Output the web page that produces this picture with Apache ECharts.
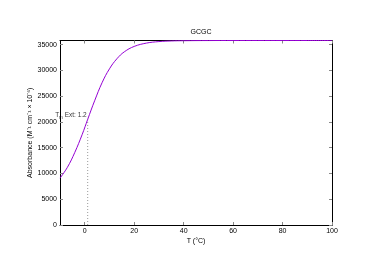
<!DOCTYPE html>
<html>
<head>
<meta charset="utf-8">
<script src="https://cdn.jsdelivr.net/npm/echarts@6/dist/echarts.min.js"></script>
<style>
html,body{margin:0;padding:0;background:#fff;}
#chart{width:374px;height:264px;}
</style>
</head>
<body>
<div id="chart"></div>
<script>
// Temperatures (°C) and absorbance values
const temps = [-10, -7, -4, -1, 1.2, 4, 7, 10, 13, 16, 20, 25, 30, 35, 40, 50, 60, 70, 80, 90, 100];
const absorb = [9100, 11200, 14100, 17600, 20500, 24100, 27600, 30300, 32250, 33600, 34650, 35300, 35590, 35710, 35760, 35790, 35800, 35800, 35800, 35800, 35800];
const xTicks = [0, 20, 40, 60, 80, 100];
const yTicks = [0, 5000, 10000, 15000, 20000, 25000, 30000, 35000];
const tmValue = 1.2;
const tmAbs = 20500;
const titleText = 'GCGC';
const xName = 'T (°C)';
const yName = 'Absorbance (M⁻¹ cm⁻¹ × 10⁻⁶)';

const font = 'Liberation Sans, Arial, sans-serif';
const chart = echarts.init(document.getElementById('chart'), null, {renderer: 'canvas'});

const lineData = temps.map((t, i) => [t, absorb[i]]);

const baseX = {
  type: 'value', min: -10, max: 100,
  axisLine: {show: true, onZero: false, lineStyle: {color: '#000', width: 1}},
  axisTick: {show: true, inside: true, length: 3, customValues: xTicks, lineStyle: {color: '#888'}},
  splitLine: {show: false}
};
const baseY = {
  type: 'value', min: 0, max: 35800, interval: 5000,
  axisLine: {show: true, onZero: false, lineStyle: {color: '#000', width: 1}},
  axisTick: {show: true, inside: true, length: 3, customValues: yTicks, lineStyle: {color: '#888'}},
  splitLine: {show: false}
};

chart.setOption({
  animation: false,
  backgroundColor: '#fff',
  title: {
    text: titleText, left: 196, top: 24, textAlign: 'center',
    textStyle: {fontFamily: font, fontSize: 7, fontWeight: 'normal', color: '#000'}
  },
  grid: {left: 60, right: 42, top: 40.5, bottom: 39, containLabel: false},
  xAxis: [
    Object.assign({}, baseX, {
      position: 'bottom',
      name: xName, nameLocation: 'middle', nameGap: 13, nameMoveOverlap: false,
      nameTextStyle: {fontFamily: font, fontSize: 7, color: '#000'},
      axisLabel: {show: true, customValues: xTicks, margin: 3, fontFamily: font, fontSize: 7, color: '#000',
        formatter: v => String(v)}
    }),
    Object.assign({}, baseX, {position: 'top', axisLabel: {show: false}})
  ],
  yAxis: [
    Object.assign({}, baseY, {
      position: 'left',
      name: yName, nameLocation: 'middle', nameGap: 26, nameMoveOverlap: false,
      nameTextStyle: {fontFamily: font, fontSize: 7, color: '#000'},
      axisLabel: {show: true, customValues: yTicks, margin: 3, fontFamily: font, fontSize: 7, color: '#000',
        formatter: v => String(v)}
    }),
    Object.assign({}, baseY, {position: 'right', axisLabel: {show: false}})
  ],
  series: [
    {
      type: 'line', xAxisIndex: 0, yAxisIndex: 0,
      data: [[tmValue, 0], [tmValue, tmAbs]],
      symbol: 'none', silent: true, z: 1,
      lineStyle: {color: '#999', width: 1, type: [1, 2]}
    },
    {
      type: 'line', xAxisIndex: 0, yAxisIndex: 0,
      data: lineData, smooth: 0.4, symbol: 'none', z: 3,
      lineStyle: {color: '#9400d3', width: 1}
    },
    {
      type: 'scatter', xAxisIndex: 0, yAxisIndex: 0,
      data: [[tmValue, tmAbs]], symbolSize: 0, z: 4,
      label: {
        show: true, position: 'left', distance: 1, offset: [0, -4],
        color: '#000', fontFamily: font, fontSize: 6.5,
        formatter: 'T{s|m} Ext: ' + tmValue,
        rich: {
          s: {fontFamily: font, fontSize: 4.5, color: '#000', padding: [4, 0, 0, 0]}
        }
      }
    }
  ]
});
</script>
</body>
</html>
